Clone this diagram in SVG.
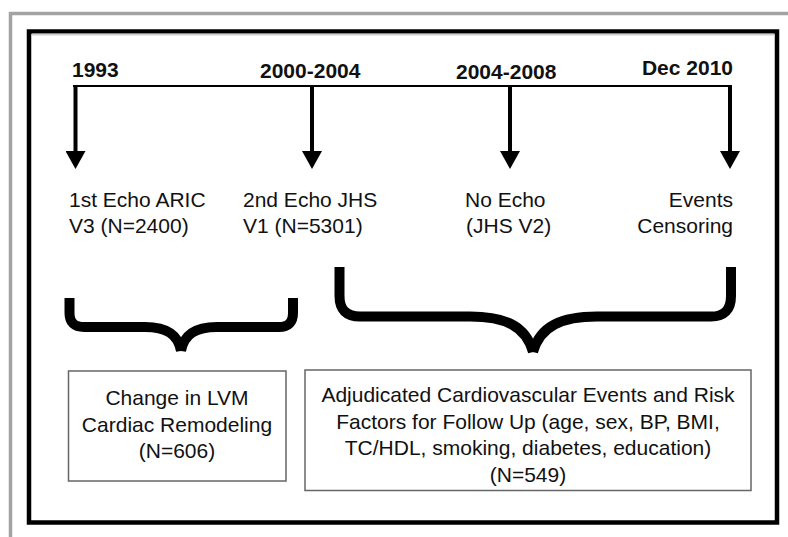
<svg xmlns="http://www.w3.org/2000/svg" width="788" height="537" viewBox="0 0 788 537">
<style>
  .yr { font-family: "Liberation Sans", Arial, sans-serif; font-weight: bold; font-size: 21px; fill: #111; }
  .lb { font-family: "Liberation Sans", Arial, sans-serif; font-size: 21px; fill: #111; }
  .box { fill: #fff; stroke: #666; stroke-width: 1.5; }
  .arr { stroke: #000; stroke-width: 4; fill: none; marker-end: url(#ah); }
  .brace { stroke: #000; stroke-width: 10; fill: none; stroke-linecap: butt; stroke-linejoin: round; }
</style>
<defs>
  <marker id="ah" markerUnits="userSpaceOnUse" markerWidth="18" markerHeight="20" viewBox="0 0 18 20" refX="1" refY="10" orient="auto">
    <path d="M0,0 L18,10 L0,20 z" fill="#000"/>
  </marker>
</defs>
<rect width="788" height="537" fill="#fff"/>
<!-- outer gray frame -->
<path d="M10.5,537 V13.5 H788" fill="none" stroke="#a3a3a3" stroke-width="3.5"/>
<!-- inner black frame -->
<rect x="29" y="31.5" width="748" height="491" fill="#fff" stroke="#000" stroke-width="4.5"/>
<path d="M32,34.5 H774" stroke="#cfcfcf" stroke-width="2" fill="none"/>

<g id="connectors">
  <path d="M73,86 H732" stroke="#000" stroke-width="2" fill="none"/>
  <path class="arr" d="M75.5,85 V152"/>
  <path class="arr" d="M312,85 V152"/>
  <path class="arr" d="M510,85 V152"/>
  <path class="arr" d="M730,85 V152"/>
  <path class="brace" d="M69.5,298 V313 Q69.5,327 84,327 H145 C166,327 178,334 181,351 M293,298 V313 Q293,327 279,327 H217 C196,327 184,334 181,351"/>
  <path class="brace" d="M339.5,267 V296 Q339.5,316.5 360,316.5 H470 C505,316.5 526,326 533,352 M731,267 V296 Q731,316.5 711,316.5 H597 C562,316.5 540,326 533,352"/>
</g>

<g id="t1993"><text class="yr" x="72" y="77">1993</text></g>
<g id="t2000"><text class="yr" x="260" y="78">2000-2004</text></g>
<g id="t2004"><text class="yr" x="456" y="79">2004-2008</text></g>
<g id="t2010"><text class="yr" x="733" y="75" text-anchor="end">Dec 2010</text></g>

<g id="echo1">
  <text class="lb" x="69" y="207">1st Echo ARIC</text>
  <text class="lb" x="69" y="233">V3 (N=2400)</text>
</g>
<g id="echo2">
  <text class="lb" x="243" y="207">2nd Echo JHS</text>
  <text class="lb" x="243" y="233">V1 (N=5301)</text>
</g>
<g id="noecho">
  <text class="lb" x="465" y="207">No Echo</text>
  <text class="lb" x="466" y="233">(JHS V2)</text>
</g>
<g id="events">
  <text class="lb" x="733" y="207" text-anchor="end">Events</text>
  <text class="lb" x="733" y="233" text-anchor="end">Censoring</text>
</g>

<g id="box-lvm">
  <rect class="box" x="68.5" y="371" width="217.5" height="110"/>
  <text class="lb" x="177" y="405" text-anchor="middle">Change in LVM</text>
  <text class="lb" x="177" y="431.5" text-anchor="middle">Cardiac Remodeling</text>
  <text class="lb" x="177" y="458" text-anchor="middle">(N=606)</text>
</g>
<g id="box-events">
  <rect class="box" x="305" y="370" width="446" height="120.5"/>
  <text class="lb" x="528" y="402" text-anchor="middle">Adjudicated Cardiovascular Events and Risk</text>
  <text class="lb" x="528" y="428.5" text-anchor="middle">Factors for Follow Up (age, sex, BP, BMI,</text>
  <text class="lb" x="528" y="455" text-anchor="middle">TC/HDL, smoking, diabetes, education)</text>
  <text class="lb" x="528" y="481.5" text-anchor="middle">(N=549)</text>
</g>
</svg>
